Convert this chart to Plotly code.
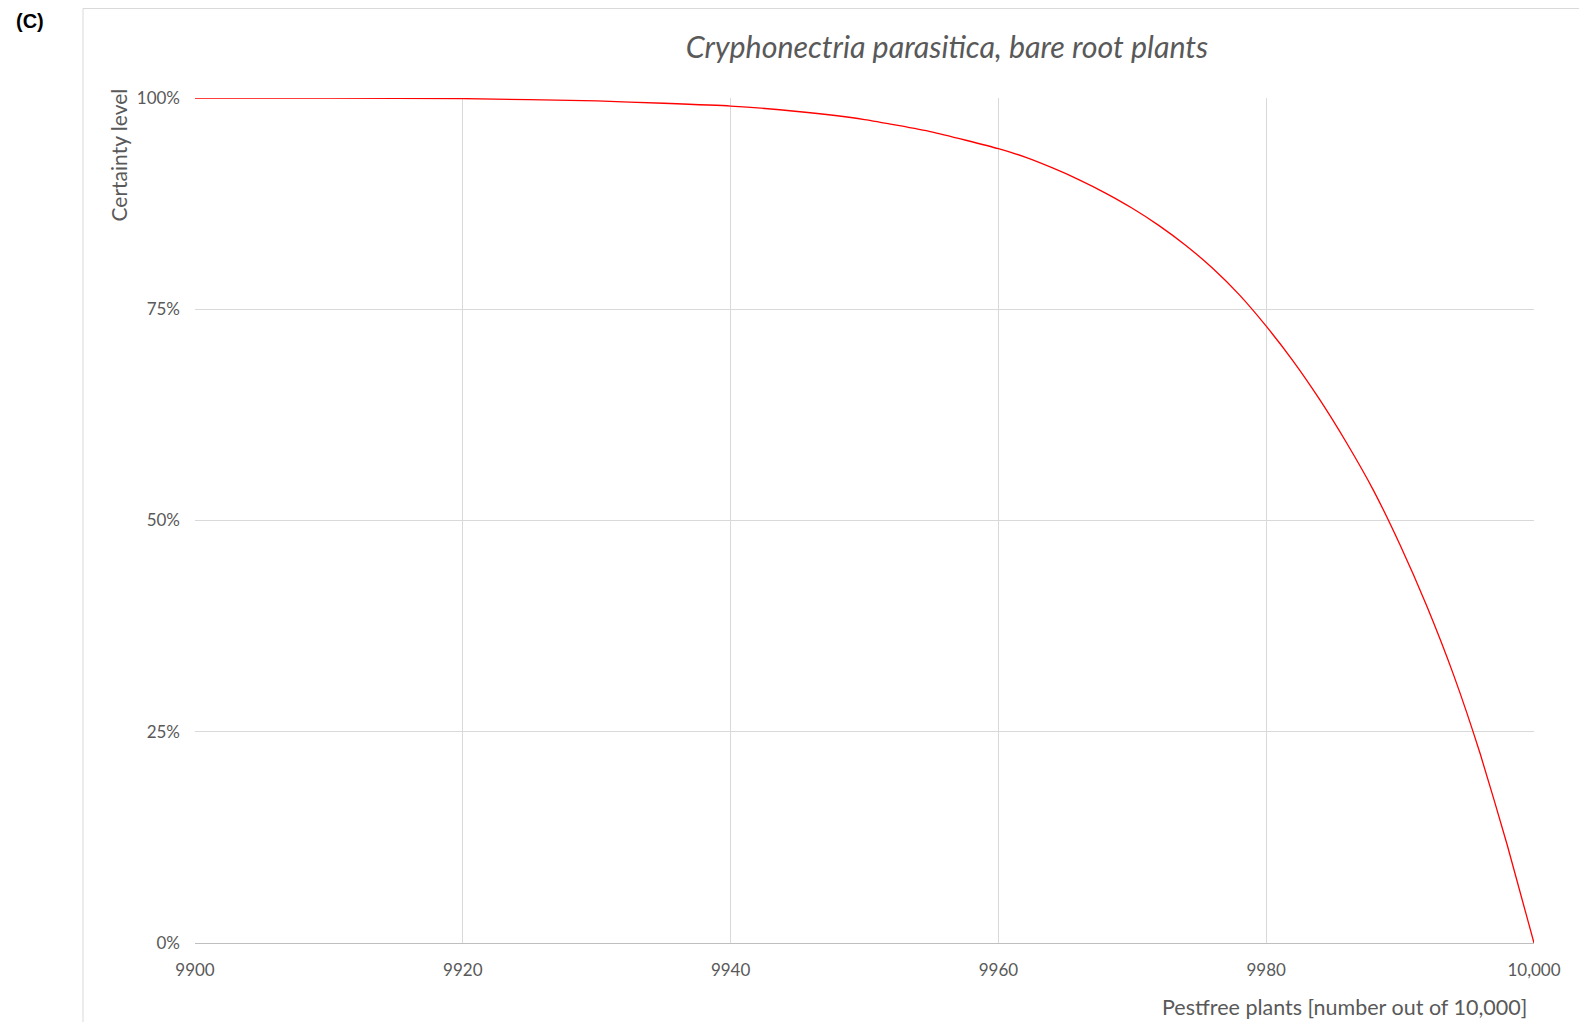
import plotly.graph_objects as go

# pest-free plants (out of 10,000) vs certainty level
pestfree = [9900, 9910, 9920, 9930, 9935, 9940, 9945, 9950, 9955, 9960, 9962, 9964,
            9966, 9968, 9970, 9972, 9974, 9976, 9978, 9980, 9982, 9984, 9986, 9988,
            9990, 9992, 9994, 9996, 9998, 10000]
certainty = [1.0, 0.9999, 0.9993, 0.9965, 0.9938, 0.9905, 0.984, 0.9745, 0.960, 0.940,
             0.930, 0.9175, 0.9035, 0.8875, 0.8695, 0.849, 0.8255, 0.7985, 0.767, 0.730,
             0.689, 0.643, 0.592, 0.536, 0.471, 0.3985, 0.317, 0.223, 0.116, 0.0]

x_ticks = [9900, 9920, 9940, 9960, 9980, 10000]
x_labels = ["9900", "9920", "9940", "9960", "9980", "10,000"]
y_ticks = [0, 0.25, 0.5, 0.75, 1.0]
y_labels = ["0%", "25%", "50%", "75%", "100%"]

GRID = "#d9d9d9"
TEXT = "#595959"
FONT = "Lato, 'Open Sans', sans-serif"

# page has an 8px body margin, so the figure is 16px smaller and shifted
W, H = 1571, 1014

fig = go.Figure()
fig.add_trace(go.Scatter(
    x=pestfree, y=certainty, mode="lines",
    line=dict(color="#ff0000", width=1.3, shape="spline", smoothing=0.5),
    hoverinfo="x+y", showlegend=False,
))

fig.update_layout(
    width=W, height=H,
    margin=dict(l=187, r=45, t=90, b=79),
    paper_bgcolor="white", plot_bgcolor="white",
    font=dict(family=FONT, color=TEXT),
    title=dict(text="<i>Cryphonectria parasitica, bare root plants</i>",
               x=939 / W, xanchor="center", y=1 - 39 / H, yanchor="middle",
               font=dict(size=30.4, color=TEXT, family=FONT)),
    xaxis=dict(range=[9900, 10000], tickvals=x_ticks, ticktext=x_labels,
               showgrid=True, gridcolor=GRID, gridwidth=1,
               showline=True, linecolor="#bfbfbf", linewidth=1,
               zeroline=False, ticks="", ticklabelstandoff=12,
               tickfont=dict(size=17, color=TEXT)),
    yaxis=dict(range=[0, 1], tickvals=y_ticks, ticktext=y_labels,
               showgrid=True, gridcolor=GRID, gridwidth=1,
               zeroline=False, showline=False, ticks="", ticklabelstandoff=14,
               tickfont=dict(size=17, color=TEXT)),
    annotations=[
        dict(text="Certainty level", textangle=-90, xref="paper", yref="paper",
             x=-(195 - 118) / 1339, y=1.0 + 11 / 845, xanchor="center", yanchor="top",
             showarrow=False, font=dict(size=21, color=TEXT)),
        dict(text="Pestfree plants [number out of 10,000]", xref="paper", yref="paper",
             x=(1529 - 195) / 1339, y=-(1007 - 943) / 845, xanchor="right", yanchor="middle",
             showarrow=False, font=dict(size=21.5, color=TEXT)),
        dict(text="<b>(C)</b>", xref="paper", yref="paper",
             x=-(195 - 14) / 1339, y=(943 - 21) / 845, xanchor="left", yanchor="middle",
             showarrow=False, font=dict(size=20, color="black",
                                        family="'Liberation Sans', Arial, sans-serif")),
    ],
    shapes=[
        dict(type="rect", xref="paper", yref="paper",
             x0=-(195 - 83) / 1339, x1=1.2, y0=-0.3, y1=(943 - 8.5) / 845,
             line=dict(color=GRID, width=1), fillcolor="rgba(0,0,0,0)", layer="below"),
    ],
)

fig.write_html("out.html")
